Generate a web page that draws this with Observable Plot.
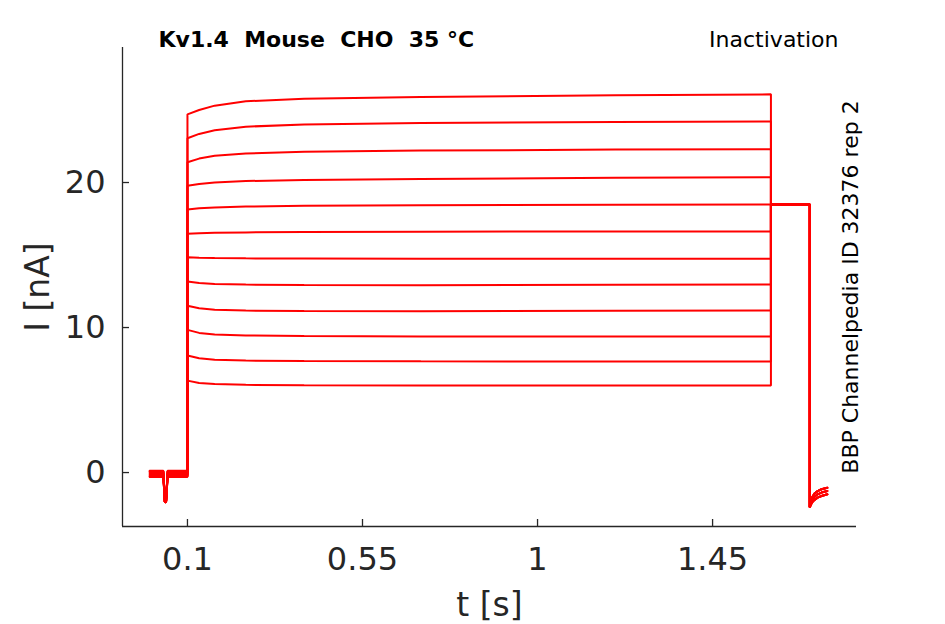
<!DOCTYPE html>
<html><head><meta charset="utf-8">
<script src="https://cdn.jsdelivr.net/npm/d3@7"></script>
<script src="https://cdn.jsdelivr.net/npm/@observablehq/plot@0.6"></script>
<style>
body{margin:0;background:#fff}
svg{display:block}
svg text{white-space:pre}
</style>
</head><body><div id="chart"></div>
<script>
// ---- data ----
const xTicks = [0.1, 0.55, 1, 1.45];
const yTicks = [0, 10, 20];
const xDomain = [-0.067, 1.82];
const yDomain = [-3.72, 29.31];

// holding period before the pulse
const baseTimes = [0.003, 0.038, 0.042, 0.045, 0.049, 0.1];
const baseLevels = [0.1, -0.25, 0.05, -0.3, 0.0, -0.2, 0.12, -0.1, -0.28, 0.08, -0.15, -0.05];
const spikeMin = -2.05;

// pulse period (t = 0.1 .. 1.6 s)
const stepTimes = [0.1, 0.13, 0.17, 0.25, 0.4, 0.7, 1.2, 1.6];
const trace1  = [24.7, 25.0, 25.3, 25.6, 25.78, 25.9, 26.02, 26.08];
const trace2  = [23.05, 23.35, 23.6, 23.85, 24.0, 24.1, 24.18, 24.2];
const trace3  = [21.4, 21.65, 21.85, 22.0, 22.12, 22.2, 22.27, 22.3];
const trace4  = [19.77, 19.9, 20.0, 20.1, 20.18, 20.25, 20.32, 20.36];
const trace5  = [18.14, 18.22, 18.28, 18.34, 18.4, 18.44, 18.47, 18.48];
const trace6  = [16.46, 16.5, 16.53, 16.56, 16.59, 16.61, 16.62, 16.62];
const trace7  = [14.85, 14.81, 14.79, 14.77, 14.76, 14.75, 14.75, 14.75];
const trace8  = [13.17, 13.07, 13.01, 12.96, 12.93, 12.92, 12.95, 12.97];
const trace9  = [11.5, 11.33, 11.23, 11.17, 11.14, 11.13, 11.15, 11.17];
const trace10 = [9.84, 9.63, 9.52, 9.45, 9.41, 9.39, 9.38, 9.38];
const trace11 = [8.07, 7.88, 7.78, 7.72, 7.69, 7.67, 7.66, 7.66];
const trace12 = [6.34, 6.18, 6.1, 6.05, 6.02, 6.0, 6.0, 6.0];
const pulseTraces = [trace1, trace2, trace3, trace4, trace5, trace6, trace7, trace8, trace9, trace10, trace11, trace12];

// common test step (t = 1.6 .. 1.7 s)
const testTimes = [1.6, 1.7];
const testLevel = 18.48;

// tail after the step
const tailTimes = [1.7, 1.702, 1.706, 1.712, 1.72, 1.73, 1.745];
const tailFast = [-2.4, -2.0, -1.7, -1.45, -1.28, -1.15, -1.05];
const tailMid  = [-2.4, -2.12, -1.88, -1.67, -1.5, -1.38, -1.27];
const tailSlow = [-2.4, -2.25, -2.05, -1.88, -1.73, -1.62, -1.5];
const tails = [tailFast, tailMid, tailSlow];

// ---- build the table ----
const rows = [];
pulseTraces.forEach((vals, i) => {
  const b = baseLevels[i];
  const baseVals = [b, b, spikeMin, spikeMin + 0.05, b, b];
  baseTimes.forEach((t, k) => rows.push({trace: i, t, I: baseVals[k]}));
  stepTimes.forEach((t, k) => rows.push({trace: i, t, I: vals[k]}));
  testTimes.forEach(t => rows.push({trace: i, t, I: testLevel}));
  const tail = tails[i % 3];
  tailTimes.forEach((t, k) => rows.push({trace: i, t, I: tail[k]}));
});

const W = 945, H = 624, mL = 122, mR = 89, mT = 47, mB = 98;
const fw = W - mL - mR, fh = H - mT - mB;
const axisColor = "#262626";

const chart = Plot.plot({
  width: W, height: H,
  marginLeft: mL, marginRight: mR, marginTop: mT, marginBottom: mB,
  style: {fontFamily: "DejaVu Sans", background: "#fff"},
  x: {domain: xDomain},
  y: {domain: yDomain},
  marks: [
    Plot.line(rows, {x: "t", y: "I", z: "trace", stroke: "#ff0000", strokeWidth: 2, strokeLinejoin: "miter"}),
    Plot.ruleX([xDomain[0]], {stroke: axisColor, strokeWidth: 1.3}),
    Plot.ruleY([yDomain[0]], {stroke: axisColor, strokeWidth: 1.3}),
    Plot.tickX(xTicks, {x: d => d, stroke: axisColor, strokeWidth: 1.3, insetTop: fh - 7}),
    Plot.tickY(yTicks, {y: d => d, stroke: axisColor, strokeWidth: 1.3, insetRight: fw - 7}),
    Plot.axisX({ticks: xTicks, tickSize: 0, tickPadding: 21, fontSize: 32, color: axisColor, label: null, tickFormat: d => String(d)}),
    Plot.axisY({ticks: yTicks, tickSize: 0, tickPadding: 17, fontSize: 32, color: axisColor, label: null}),
    Plot.text(["t [s]"], {frameAnchor: "bottom", dy: 79, fontSize: 33, fill: axisColor, textAnchor: "middle", lineAnchor: "middle"}),
    Plot.text(["I [nA]"], {frameAnchor: "left", dx: -84, rotate: -90, fontSize: 33, fill: axisColor, textAnchor: "middle", lineAnchor: "middle"}),
    Plot.text(["Kv1.4  Mouse  CHO  35 °C"], {frameAnchor: "top-left", dx: 36, dy: -8, textAnchor: "start", lineAnchor: "middle", fontSize: 22, fontWeight: "bold", fill: "#000"}),
    Plot.text(["Inactivation"], {frameAnchor: "top-right", dx: -18, dy: -8, textAnchor: "end", lineAnchor: "middle", fontSize: 22, fill: "#000"}),
    Plot.text(["BBP Channelpedia ID 32376 rep 2"], {frameAnchor: "right", dx: -6, rotate: -90, textAnchor: "middle", lineAnchor: "middle", fontSize: 22, fill: "#000"})
  ]
});
document.getElementById("chart").appendChild(chart);
</script>
</body></html>
